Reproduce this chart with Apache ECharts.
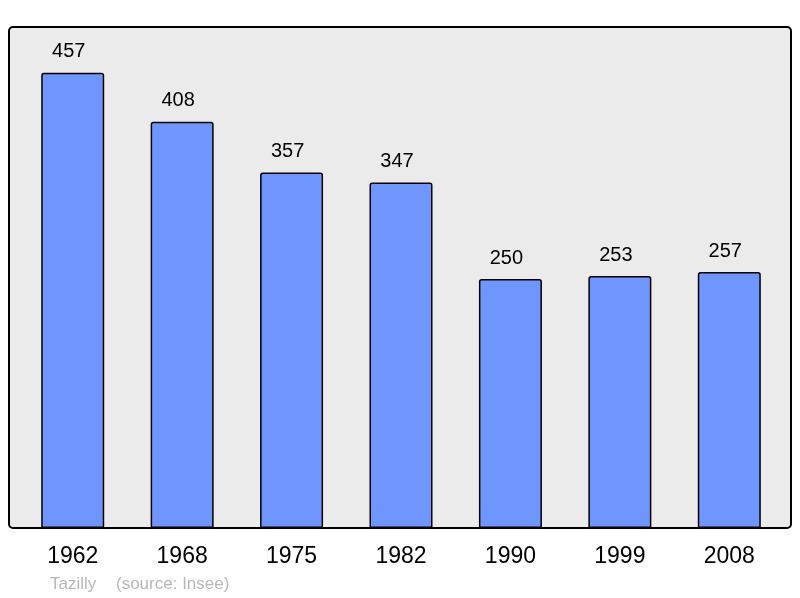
<!DOCTYPE html>
<html>
<head>
<meta charset="utf-8">
<script src="https://cdn.jsdelivr.net/npm/echarts@6/dist/echarts.min.js"></script>
<style>
html, body { margin: 0; padding: 0; background: #fff; }
#chart { width: 800px; height: 598px; }
</style>
</head>
<body>
<div id="chart"></div>
<script>
// population par recensement
var years = ['1962', '1968', '1975', '1982', '1990', '1999', '2008'];
var population = [457, 408, 357, 347, 250, 253, 257];

var chart = echarts.init(document.getElementById('chart'));
chart.setOption({
    animation: false,
    backgroundColor: '#fff',
    graphic: [
        {
            type: 'rect', z: -1,
            shape: { x: 9, y: 27, width: 782, height: 501, r: 4 },
            style: { fill: '#ebebeb', stroke: '#000', lineWidth: 2 }
        },
        {
            type: 'text', left: 50, top: 576,
            style: { text: 'Tazilly', fill: '#b8b8b8', font: '17px "Liberation Sans", Arial, sans-serif' }
        },
        {
            type: 'text', left: 116, top: 576,
            style: { text: '(source: Insee)', fill: '#b8b8b8', font: '17px "Liberation Sans", Arial, sans-serif' }
        }
    ],
    grid: { left: 18, right: 16, top: 30, bottom: 70 },
    xAxis: {
        type: 'category',
        data: years,
        axisLine: { show: false },
        axisTick: { show: false },
        axisLabel: {
            margin: 17, color: '#000', fontSize: 23,
            fontFamily: '"Liberation Sans", Arial, sans-serif'
        }
    },
    yAxis: {
        type: 'value', min: 0, max: 500,
        show: false,
        splitLine: { show: false }
    },
    series: [{
        type: 'bar',
        data: population,
        barWidth: 63,
        itemStyle: {
            color: '#6f96ff',
            borderColor: '#000',
            borderWidth: 1.5,
            borderRadius: [2, 2, 0, 0]
        },
        label: {
            show: true, position: 'top', distance: 11, offset: [-4, 0],
            color: '#000', fontSize: 20,
            fontFamily: '"Liberation Sans", Arial, sans-serif'
        }
    }]
});
</script>
</body>
</html>
